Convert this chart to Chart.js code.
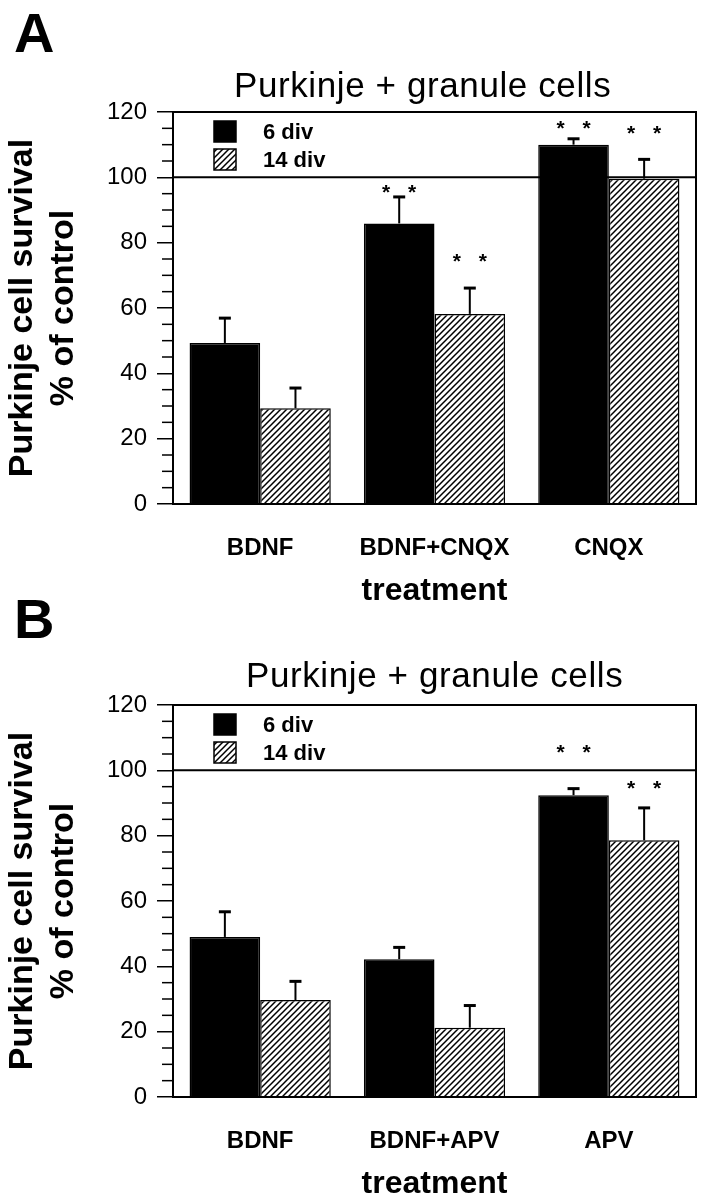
<!DOCTYPE html>
<html>
<head>
<meta charset="utf-8">
<script src="https://cdn.jsdelivr.net/npm/chart.js@4.4.0/dist/chart.umd.min.js"></script>
<style>
  body { margin: 0; background: #fff; width: 703px; height: 1199px; position: relative; overflow: hidden; font-family: 'Liberation Sans', Arial, sans-serif; }
  .panel { position: absolute; left: 0; width: 703px; height: 612px; }
  .letter { position: absolute; left: 14px; font-weight: bold; font-size: 56px; line-height: 1; }
  .title { position: absolute; font-size: 35px; line-height: 1; white-space: nowrap; letter-spacing: 0.6px; }
</style>
</head>
<body>
<div class="panel" style="top:0"><canvas id="chartA" width="703" height="612"></canvas></div>
<div class="panel" style="top:593px"><canvas id="chartB" width="703" height="612"></canvas></div>
<div class="letter" style="top:5px">A</div>
<div class="title" style="left:234px; top:67px">Purkinje + granule cells</div>
<div class="letter" style="top:591px">B</div>
<div class="title" style="left:246px; top:657px">Purkinje + granule cells</div>

<script>
// data (% of control, mean and upward error)
const seriesLabels = ['6 div', '14 div'];
const yTicks = [0, 20, 40, 60, 80, 100, 120];

const categoriesA = ['BDNF', 'BDNF+CNQX', 'CNQX'];
const div6A = [49.3, 85.9, 110.0];
const div6ErrA = [7.6, 8.1, 1.8];
const div14A = [29.3, 58.2, 99.6];
const div14ErrA = [6.2, 7.9, 5.9];
const stars6A = [null, 97, 116.5];
const stars14A = [null, 76, 115];

const categoriesB = ['BDNF', 'BDNF+APV', 'APV'];
const div6B = [49.0, 42.2, 92.4];
const div6ErrB = [7.7, 3.6, 2.0];
const div14B = [29.7, 21.2, 78.6];
const div14ErrB = [5.7, 6.8, 9.9];
const stars6B = [null, null, 107];
const stars14B = [null, null, 96];

const FONT = "'Liberation Sans', Arial, sans-serif";

// diagonal hatch for the 14 div bars
function hatch() {
  const c = document.createElement('canvas');
  c.width = 6; c.height = 6;
  const x = c.getContext('2d');
  x.fillStyle = '#fff';
  x.fillRect(0, 0, 6, 6);
  x.strokeStyle = '#000';
  x.lineWidth = 1.5;
  x.beginPath();
  x.moveTo(0, 6); x.lineTo(6, 0);
  x.moveTo(-1, 1); x.lineTo(1, -1);
  x.moveTo(5, 7); x.lineTo(7, 5);
  x.stroke();
  return x.createPattern(c, 'repeat');
}

// frame, 100% line, minor ticks, error bars, stars and the inset legend
const extras = {
  id: 'extras',
  afterDatasetsDraw(chart) {
    const ctx = chart.ctx;
    const y = chart.scales.y;
    const a = chart.chartArea;
    ctx.save();
    ctx.strokeStyle = '#000';
    ctx.fillStyle = '#000';

    ctx.lineWidth = 2;
    ctx.strokeRect(a.left, a.top, a.right - a.left, a.bottom - a.top);
    const p100 = y.getPixelForValue(100);
    ctx.beginPath();
    ctx.moveTo(a.left, p100);
    ctx.lineTo(a.right, p100);
    ctx.stroke();

    ctx.lineWidth = 1.5;
    for (let v = y.min; v <= y.max; v += 5) {
      if (v % 20 === 0) continue;
      const py = y.getPixelForValue(v);
      ctx.beginPath();
      ctx.moveTo(a.left - 11, py);
      ctx.lineTo(a.left, py);
      ctx.stroke();
    }

    chart.data.datasets.forEach((ds, i) => {
      chart.getDatasetMeta(i).data.forEach((bar, j) => {
        const top = y.getPixelForValue(ds.data[j] + ds.err[j]);
        ctx.lineWidth = 2;
        ctx.beginPath();
        ctx.moveTo(bar.x, bar.y);
        ctx.lineTo(bar.x, top);
        ctx.stroke();
        ctx.lineWidth = 3;
        ctx.beginPath();
        ctx.moveTo(bar.x - 6, top);
        ctx.lineTo(bar.x + 6, top);
        ctx.stroke();
        if (ds.stars[j] != null) {
          const sy = y.getPixelForValue(ds.stars[j]);
          ctx.font = 'bold 21px ' + FONT;
          ctx.textAlign = 'center';
          ctx.textBaseline = 'alphabetic';
          ctx.fillText('*', bar.x - 13, sy + 12);
          ctx.fillText('*', bar.x + 13, sy + 12);
        }
      });
    });

    chart.data.datasets.forEach((ds, i) => {
      const bx = a.left + 41, by = a.top + 9 + i * 28;
      ctx.fillStyle = ds.backgroundColor;
      ctx.fillRect(bx, by, 22, 21);
      ctx.lineWidth = 1.5;
      ctx.strokeRect(bx, by, 22, 21);
      ctx.fillStyle = '#000';
      ctx.font = 'bold 22px ' + FONT;
      ctx.textAlign = 'left';
      ctx.textBaseline = 'alphabetic';
      ctx.fillText(ds.label, bx + 49, by + 18);
    });
    ctx.restore();
  }
};

function makePanel(id, cats, d6, e6, s6, d14, e14, s14) {
  return new Chart(document.getElementById(id), {
    type: 'bar',
    data: {
      labels: cats,
      datasets: [{
        label: seriesLabels[0],
        data: d6, err: e6, stars: s6,
        backgroundColor: '#000',
        borderColor: '#000',
        borderWidth: 1.5
      }, {
        label: seriesLabels[1],
        data: d14, err: e14, stars: s14,
        backgroundColor: hatch(),
        borderColor: '#000',
        borderWidth: 1.5
      }]
    },
    options: {
      responsive: false,
      animation: false,
      devicePixelRatio: 1,
      categoryPercentage: 0.81,
      barPercentage: 1.0,
      layout: { padding: { top: 112, right: 7, left: 0, bottom: 0 } },
      plugins: { legend: { display: false }, tooltip: { enabled: false } },
      scales: {
        x: {
          grid: { display: false },
          border: { display: true, color: '#000', width: 2 },
          ticks: { color: '#000', padding: 22, font: { family: FONT, size: 24, weight: 'bold' } },
          title: {
            display: true, text: 'treatment', color: '#000',
            font: { family: FONT, size: 32, weight: 'bold' },
            padding: { top: 0, bottom: 2 }
          },
          afterFit: s => { s.height = 108; }
        },
        y: {
          min: 0, max: 120,
          afterBuildTicks: s => { s.ticks = yTicks.map(v => ({ value: v })); },
          ticks: { color: '#000', padding: 10, font: { family: FONT, size: 24 } },
          grid: { drawOnChartArea: false, tickLength: 16, color: '#000', lineWidth: 1.5 },
          border: { color: '#000', width: 2 },
          title: {
            display: true, text: ['Purkinje cell survival', '% of control'], color: '#000',
            font: { family: FONT, size: 34, weight: 'bold', lineHeight: 1.2 },
            padding: { top: 2, bottom: 0 }
          },
          afterFit: s => { s.width = 173; }
        }
      }
    },
    plugins: [extras]
  });
}

makePanel('chartA', categoriesA, div6A, div6ErrA, stars6A, div14A, div14ErrA, stars14A);
makePanel('chartB', categoriesB, div6B, div6ErrB, stars6B, div14B, div14ErrB, stars14B);
</script>
</body>
</html>
